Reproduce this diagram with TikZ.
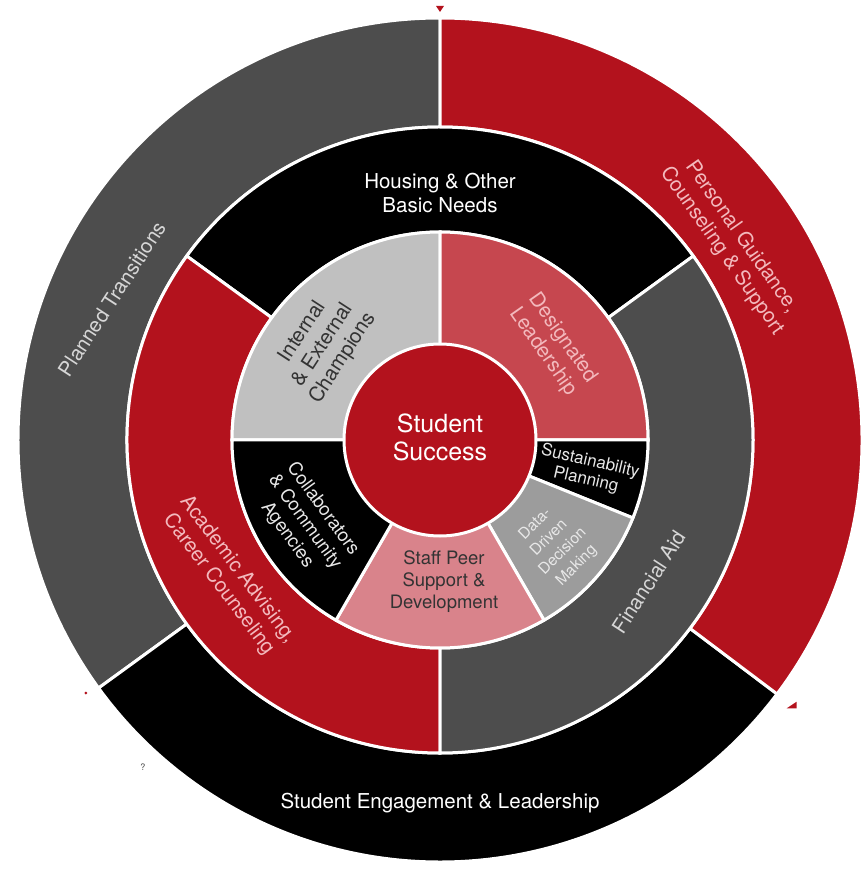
\documentclass[tikz,border=0pt]{standalone}
\usepackage{fontspec}
\setmainfont{TeX Gyre Heros}
\definecolor{dgray}{HTML}{4D4D4D}
\definecolor{cred}{HTML}{B3121D}
\definecolor{lgray}{HTML}{C0C0C0}
\definecolor{dlead}{HTML}{C6474F}
\definecolor{speer}{HTML}{D9838B}
\definecolor{mgray}{HTML}{9C9C9C}
\definecolor{pinktxt}{HTML}{F3B9BD}
\definecolor{ltxt}{HTML}{D6D6D6}
\definecolor{vltxt}{HTML}{E8E8E8}
\definecolor{dtxt}{HTML}{333333}
\newcommand{\ringsector}[5]{%
  \filldraw[fill=#5, draw=white, line width=3, line join=miter]
    (#3:#2) arc[start angle=#3, end angle=#4, radius=#2]
    -- (#4:#1) arc[start angle=#4, end angle=#3, radius=#1] -- cycle;}
\tikzset{
  lbl/.style={align=center, inner sep=0pt, font={\fontsize{20.5}{24}\selectfont}},
  smalllbl/.style={align=center, inner sep=0pt, font={\fontsize{18.5}{22}\selectfont}},
  tinylbl/.style={align=center, inner sep=0pt, font={\fontsize{15.5}{19.5}\selectfont}}
}
\begin{document}
\begin{tikzpicture}[x=1pt,y=1pt]
\useasboundingbox (-440,-440) rectangle (424,440);
% outer ring
\ringsector{313}{422}{90}{216}{dgray}
\ringsector{313}{422}{216}{323}{black}
\ringsector{313}{422}{-37}{90}{cred}
% middle ring
\ringsector{208}{313}{36}{144}{black}
\ringsector{208}{313}{144}{270}{cred}
\ringsector{208}{313}{-90}{36}{dgray}
% inner ring
\ringsector{95}{208}{90}{180}{lgray}
\ringsector{95}{208}{0}{90}{dlead}
\ringsector{95}{208}{-22}{0}{black}
\ringsector{95}{208}{-60}{-22}{mgray}
\ringsector{95}{208}{-120}{-60}{speer}
\ringsector{95}{208}{180}{240}{black}
% centre
\filldraw[fill=cred, draw=white, line width=3] (0,0) circle[radius=96];
% labels
\node[lbl, text=white, font={\fontsize{25}{28}\selectfont}] (success) at (0,3) {Student\\Success};
\node[lbl, text=white] (housing) at (0,247) {Housing \& Other\\Basic Needs};
\node[lbl, text=white] (engage) at (0,-363) {Student Engagement \& Leadership};
\node[lbl, text=ltxt, rotate=57] (planned) at (-328,141) {Planned Transitions};
\node[lbl, text=pinktxt, rotate=-55] (personal) at (292,196) {Personal Guidance,\\Counseling \& Support};
\node[lbl, text=pinktxt, rotate=-53] (academic) at (-212,-137) {Academic Advising,\\Career Counseling};
\node[lbl, text=ltxt, rotate=57] (financial) at (209,-142) {Financial Aid};
\node[lbl, text=dtxt, rotate=57] (champions) at (-117,95) {Internal\\\& External\\Champions};
\node[lbl, text=pinktxt, rotate=-55] (designated) at (113,95) {Designated\\Leadership};
\node[tinylbl, text=vltxt, font={\fontsize{17}{19}\selectfont}, rotate=-13] (sustain) at (148,-31) {Sustainability\\Planning};
\node[tinylbl, text=vltxt, rotate=45] (data) at (116,-105) {Data-\\Driven\\Decision\\Making};
\node[smalllbl, text=dtxt] (staff) at (4,-142) {Staff Peer\\Support \&\\Development};
\node[smalllbl, text=vltxt, rotate=-54] (collab) at (-135,-82) {Collaborators\\\& Community\\Agencies};
% small marks
\fill[cred] (-4,434) -- (4,434) -- (0,428) -- cycle;
\fill[cred] (346.7,-268.3) -- (356.7,-261.7) -- (356.7,-268.3) -- cycle;
\fill[cred] (-354,-253) circle[radius=1.5];
\node[text=dgray, inner sep=0pt, font={\fontsize{9}{10}\selectfont}] (mark) at (-297,-327) {?};
\end{tikzpicture}
\end{document}
